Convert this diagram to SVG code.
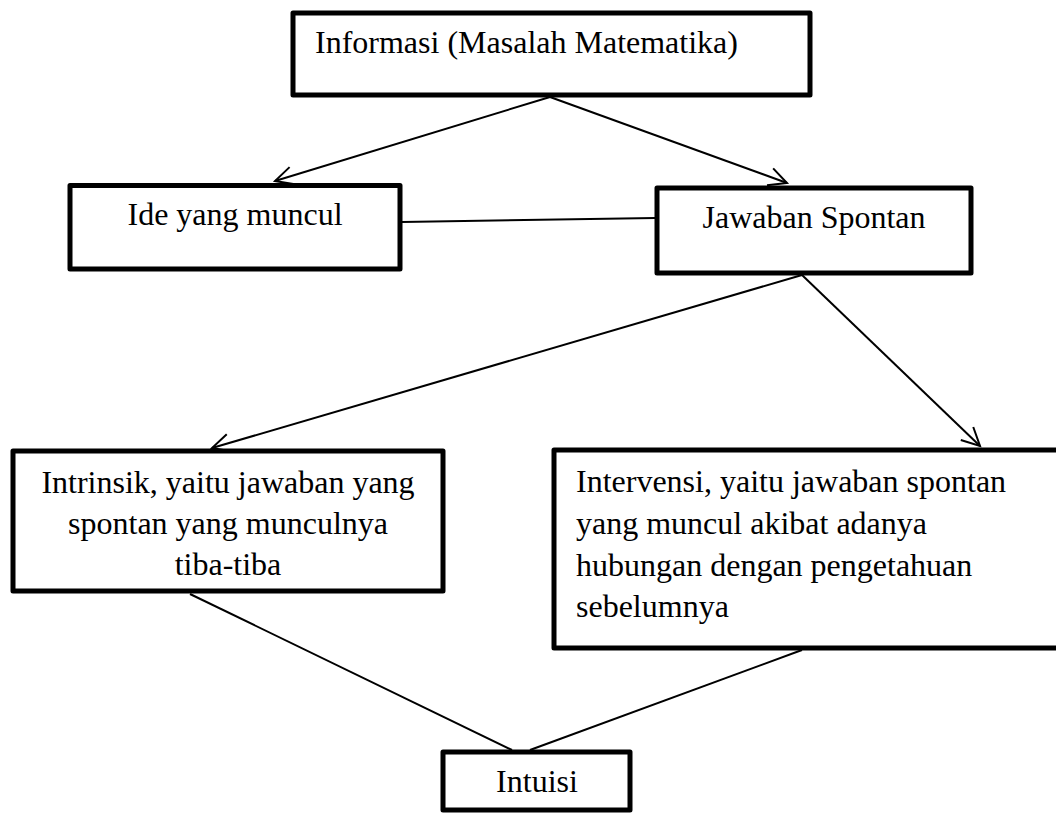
<svg xmlns="http://www.w3.org/2000/svg" width="1056" height="817" viewBox="0 0 1056 817">
<style>
.box{fill:#fff;stroke:#000;stroke-width:5;stroke-linejoin:round}
.t{font-family:'Liberation Serif',Tinos,'Times New Roman',Times,'Nimbus Roman','DejaVu Serif','Noto Serif',serif;font-size:32px;fill:#000}
.c{text-anchor:middle}
.ln{stroke:#000;stroke-width:2;fill:none}
</style>
<defs>
<marker id="arr" markerUnits="userSpaceOnUse" markerWidth="26" markerHeight="26" viewBox="0 -13 26 26" refX="20" refY="0" orient="auto">
<path d="M2,-9 L20,0 L2,9" fill="none" stroke="#000" stroke-width="2"/>
</marker>
</defs>
<rect width="1056" height="817" fill="#fff"/>
<g id="connectors">
<line class="ln" x1="550" y1="97" x2="275" y2="181" marker-end="url(#arr)"/>
<line class="ln" x1="550" y1="97" x2="787" y2="183" marker-end="url(#arr)"/>
<line class="ln" x1="402" y1="222" x2="655" y2="218"/>
<line class="ln" x1="802" y1="275" x2="212" y2="448" marker-end="url(#arr)"/>
<line class="ln" x1="802" y1="275" x2="980" y2="446" marker-end="url(#arr)"/>
<line class="ln" x1="190" y1="594" x2="512" y2="750"/>
<line class="ln" x1="802" y1="650" x2="530" y2="750"/>
</g>
<g id="informasi">
<rect class="box" x="293" y="13" width="517" height="82"/>
<text class="t" font-family="Liberation Serif, serif" x="315" y="53">Informasi (Masalah Matematika)</text>
</g>
<g id="ide">
<rect class="box" x="70" y="185.5" width="330" height="83.5"/>
<text class="t c" font-family="Liberation Serif, serif" x="235" y="225">Ide yang muncul</text>
</g>
<g id="jawaban">
<rect class="box" x="657" y="188" width="314" height="85"/>
<text class="t c" font-family="Liberation Serif, serif" x="814" y="228">Jawaban Spontan</text>
</g>
<g id="intrinsik">
<rect class="box" x="13" y="451" width="430" height="140"/>
<text class="t c" font-family="Liberation Serif, serif" x="228" y="493">Intrinsik, yaitu jawaban yang</text>
<text class="t c" font-family="Liberation Serif, serif" x="228" y="534">spontan yang munculnya</text>
<text class="t c" font-family="Liberation Serif, serif" x="228" y="575">tiba-tiba</text>
</g>
<g id="intervensi">
<rect class="box" x="554" y="450" width="510" height="198"/>
<text class="t" font-family="Liberation Serif, serif" x="576" y="492">Intervensi, yaitu jawaban spontan</text>
<text class="t" font-family="Liberation Serif, serif" x="576" y="534">yang muncul akibat adanya</text>
<text class="t" font-family="Liberation Serif, serif" x="576" y="576">hubungan dengan pengetahuan</text>
<text class="t" font-family="Liberation Serif, serif" x="576" y="617">sebelumnya</text>
</g>
<g id="intuisi">
<rect class="box" x="443" y="752" width="187" height="58"/>
<text class="t c" font-family="Liberation Serif, serif" x="537" y="792">Intuisi</text>
</g>
</svg>
